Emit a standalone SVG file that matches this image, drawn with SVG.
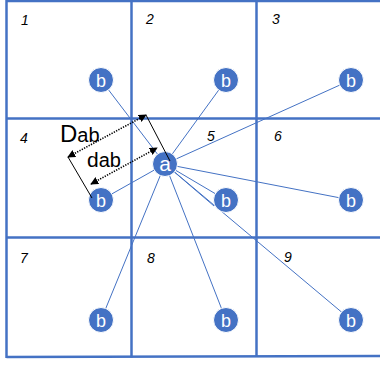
<svg xmlns="http://www.w3.org/2000/svg" width="380" height="365" viewBox="0 0 380 365">
<defs>
<style>
.grid{stroke:#4472C4;stroke-width:2.5;fill:none}
.link{stroke:#4472C4;stroke-width:1;fill:none}
.node{fill:#4472C4;stroke:#ffffff;stroke-width:1}
.lbl{fill:#ffffff;font-family:"Liberation Sans",Arial,sans-serif;text-anchor:middle}
.num{font-family:"Liberation Sans",Arial,sans-serif;font-style:italic;font-size:14px;fill:#000}
.dim{stroke:#000;stroke-width:1;fill:none}
.dot{stroke:#000;stroke-width:1.6;stroke-dasharray:1.3 1.3;fill:none}
.big{font-family:"Liberation Sans",Arial,sans-serif;fill:#000}
</style>
<marker id="ah" viewBox="0 0 10 10" refX="9" refY="5" markerWidth="5" markerHeight="5" orient="auto-start-reverse" markerUnits="strokeWidth">
<path d="M0,0 L10,5 L0,10 z" fill="#000"/>
</marker>
</defs>
<rect width="380" height="365" fill="#ffffff"/>
<g id="grid">
<line class="grid" x1="6.5" y1="1" x2="380" y2="1"/>
<line class="grid" x1="6.5" y1="118.5" x2="380" y2="118.5"/>
<line class="grid" x1="6.5" y1="237.5" x2="380" y2="237.5"/>
<line class="grid" x1="6.5" y1="357" x2="380" y2="356"/>
<line class="grid" x1="6.5" y1="0" x2="6.5" y2="358"/>
<line class="grid" x1="131.5" y1="0" x2="131.5" y2="357.5"/>
<line class="grid" x1="256.5" y1="0" x2="256.5" y2="357"/>
<text class="num" x="21" y="25">1</text>
<text class="num" x="146" y="24">2</text>
<text class="num" x="272" y="24">3</text>
<text class="num" x="20" y="143">4</text>
<text class="num" x="207" y="141">5</text>
<text class="num" x="274" y="141">6</text>
<text class="num" x="20" y="263">7</text>
<text class="num" x="147" y="263">8</text>
<text class="num" x="284" y="262">9</text>
</g>
<g id="connectors">
<line class="link" x1="165" y1="164" x2="101" y2="80"/>
<line class="link" x1="165" y1="164" x2="226" y2="80"/>
<line class="link" x1="165" y1="164" x2="351" y2="80"/>
<line class="link" x1="165" y1="164" x2="101" y2="200"/>
<line class="link" x1="165" y1="164" x2="226" y2="200"/>
<line class="link" x1="165" y1="164" x2="214" y2="206"/>
<line class="link" x1="165" y1="164" x2="351" y2="200"/>
<line class="link" x1="165" y1="164" x2="101" y2="320"/>
<line class="link" x1="165" y1="164" x2="226" y2="320"/>
<line class="link" x1="165" y1="164" x2="351" y2="320"/>
</g>
<g id="node-b1"><circle class="node" cx="101" cy="80" r="12.5"/><text class="lbl" x="101" y="86.5" font-size="18">b</text></g>
<g id="node-b2"><circle class="node" cx="226" cy="80" r="12.5"/><text class="lbl" x="226" y="86.5" font-size="18">b</text></g>
<g id="node-b3"><circle class="node" cx="351" cy="80" r="12.5"/><text class="lbl" x="351" y="86.5" font-size="18">b</text></g>
<g id="node-b4"><circle class="node" cx="101" cy="200" r="12.5"/><text class="lbl" x="101" y="206.5" font-size="18">b</text></g>
<g id="node-b5"><circle class="node" cx="226" cy="200" r="12.5"/><text class="lbl" x="226" y="206.5" font-size="18">b</text></g>
<g id="node-b6"><circle class="node" cx="351" cy="200" r="12.5"/><text class="lbl" x="351" y="206.5" font-size="18">b</text></g>
<g id="node-b7"><circle class="node" cx="101" cy="320" r="12.5"/><text class="lbl" x="101" y="326.5" font-size="18">b</text></g>
<g id="node-b8"><circle class="node" cx="226" cy="320" r="12.5"/><text class="lbl" x="226" y="326.5" font-size="18">b</text></g>
<g id="node-b9"><circle class="node" cx="351" cy="320" r="12.5"/><text class="lbl" x="351" y="326.5" font-size="18">b</text></g>
<g id="node-a"><circle class="node" cx="165" cy="164" r="12.5"/><text class="lbl" x="165" y="170.5" font-size="21">a</text></g>
<g id="dimensions">
<line class="dim" x1="146" y1="115" x2="170" y2="161"/>
<line class="dim" x1="68" y1="157" x2="92" y2="198"/>
<line class="dot" x1="68" y1="157" x2="146" y2="115" marker-start="url(#ah)" marker-end="url(#ah)"/>
<line class="dot" x1="91" y1="184" x2="157" y2="148" marker-start="url(#ah)" marker-end="url(#ah)"/>
<text class="big" x="60" y="142"><tspan font-size="24">D</tspan><tspan font-size="20">ab</tspan></text>
<text class="big" x="87" y="167"><tspan font-size="21">d</tspan><tspan font-size="20">ab</tspan></text>
</g>
</svg>
